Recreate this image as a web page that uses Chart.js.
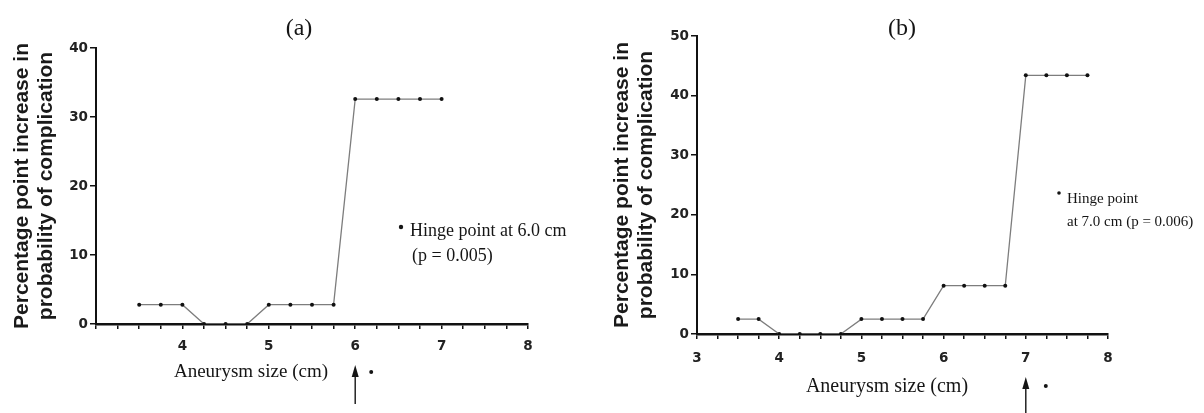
<!DOCTYPE html>
<html><head><meta charset="utf-8">
<script src="https://cdn.jsdelivr.net/npm/chart.js@4.4.1/dist/chart.umd.min.js"></script>
<style>
html,body{margin:0;padding:0;background:#fff;width:1204px;height:413px;overflow:hidden}
canvas{position:absolute;top:0}
#ca{left:0}#cb{left:600px}
</style></head><body>
<canvas id="ca" width="600" height="413"></canvas>
<canvas id="cb" width="604" height="413"></canvas>
<script>
// ---- data ----
const sizesA = [3.5,3.75,4,4.25,4.5,4.75,5,5.25,5.5,5.75,6,6.25,6.5,6.75,7];
const valuesA = [2.8,2.8,2.8,0,0,0,2.8,2.8,2.8,2.8,32.6,32.6,32.6,32.6,32.6];
const sizesB = [3.5,3.75,4,4.25,4.5,4.75,5,5.25,5.5,5.75,6,6.25,6.5,6.75,7,7.25,7.5,7.75];
const valuesB = [2.5,2.5,0,0,0,0,2.5,2.5,2.5,2.5,8.1,8.1,8.1,8.1,43.4,43.4,43.4,43.4];
const xLabelsA = [4,5,6,7,8];
const xLabelsB = [3,4,5,6,7,8];
const yMaxA = 40, yMaxB = 50;
const yTitle = ['Percentage point increase in','probability of complication'];
const xTitle = 'Aneurysm size (cm)';
const panelLabelA = '(a)', panelLabelB = '(b)';
const hingeA = 6.0, hingeB = 7.0;
const noteA = ['Hinge point at 6.0 cm','(p = 0.005)'];
const noteB = ['Hinge point','at 7.0 cm (p = 0.006)'];

const INK = '#151515';

function annotPlugin(p){
  return {
    id:'annot',
    afterDraw(chart){
      const ctx = chart.ctx;
      ctx.save();
      ctx.fillStyle = INK; ctx.strokeStyle = INK;
      ctx.font = '24px "Liberation Serif"';
      ctx.textAlign = 'center'; ctx.textBaseline = 'middle';
      ctx.fillText(p.label, p.labelX, p.labelY);
      ctx.font = p.xtSize + 'px "Liberation Serif"';
      ctx.fillText(xTitle, p.xtX, p.xtY);
      const ax = chart.scales.x.getPixelForValue(p.hinge);
      ctx.lineWidth = 1.4;
      ctx.beginPath(); ctx.moveTo(ax, p.arrowTip + 8); ctx.lineTo(ax, p.arrowEnd); ctx.stroke();
      ctx.beginPath(); ctx.moveTo(ax, p.arrowTip); ctx.lineTo(ax - 3.5, p.arrowTip + 12); ctx.lineTo(ax + 3.5, p.arrowTip + 12); ctx.closePath(); ctx.fill();
      ctx.beginPath(); ctx.arc(ax + p.dotDx, p.dotY, 2, 0, Math.PI*2); ctx.fill();
      ctx.beginPath(); ctx.arc(p.noteDotX, p.noteDotY, p.noteDotR, 0, Math.PI*2); ctx.fill();
      ctx.font = p.noteSize + 'px "Liberation Serif"';
      ctx.textAlign = 'left';
      p.note.forEach((t,i)=>ctx.fillText(t, p.noteX[i], p.noteY[i]));
      ctx.restore();
    }
  };
}

function makeChart(id, p){
  return new Chart(document.getElementById(id), {
    type:'line',
    data:{datasets:[{
      data:p.sizes.map((x,i)=>({x:x, y:p.values[i]})),
      borderColor:'#7d7d7d', borderWidth:1.3, tension:0, fill:false,
      pointRadius:2, pointBackgroundColor:'#111', pointBorderWidth:0
    }]},
    options:{
      responsive:false, animation:false, devicePixelRatio:1,
      layout:{padding:{left:0, top:p.top, right:p.right, bottom:p.bottom}},
      plugins:{legend:{display:false}, tooltip:{enabled:false}},
      scales:{
        x:{type:'linear', min:3, max:8,
          border:{display:true, color:'#111', width:2.5},
          grid:{drawOnChartArea:false, drawTicks:true, tickLength:5, color:'#111', lineWidth:1.5},
          ticks:{stepSize:0.25, autoSkip:false, maxRotation:0, minRotation:0, padding:p.xPad, color:'#222',
            font:{family:'DejaVu Sans', weight:'bold', size:13.5},
            callback:v=>p.xLabels.includes(v)?String(v):''},
          afterFit:s=>{s.height = p.xH;}
        },
        y:{type:'linear', min:0, max:p.ymax,
          border:{display:true, color:'#111', width:2},
          grid:{drawOnChartArea:false, drawTicks:true, tickLength:6, color:'#111', lineWidth:1.5},
          ticks:{stepSize:10, padding:2, color:'#222', font:{family:'DejaVu Sans', weight:'bold', size:13.5}},
          title:{display:true, text:yTitle, color:'#1a1a1a', padding:{top:10, bottom:0},
            font:{family:'Liberation Sans', weight:'bold', size:21, lineHeight:1.15}},
          afterFit:s=>{s.width = p.yW;}
        }
      }
    },
    plugins:[annotPlugin(p)]
  });
}

makeChart('ca', {
  sizes:sizesA, values:valuesA, xLabels:xLabelsA, ymax:yMaxA,
  top:48, right:72, bottom:39, xH:50, yW:96, xPad:9,
  label:panelLabelA, labelX:299, labelY:29,
  xtX:251, xtY:372, xtSize:19,
  hinge:hingeA, arrowTip:365, arrowEnd:404, dotDx:16, dotY:372,
  note:noteA, noteDotX:401, noteDotY:227, noteDotR:2.2, noteSize:18,
  noteX:[410,412], noteY:[231,256]
});
makeChart('cb', {
  sizes:sizesB, values:valuesB, xLabels:xLabelsB, ymax:yMaxB,
  top:36, right:96, bottom:29, xH:50, yW:97, xPad:11,
  label:panelLabelB, labelX:302, labelY:29,
  xtX:287, xtY:387, xtSize:20,
  hinge:hingeB, arrowTip:377, arrowEnd:413, dotDx:20, dotY:386,
  note:noteB, noteDotX:459, noteDotY:193, noteDotR:1.8, noteSize:15,
  noteX:[467,467], noteY:[199,222]
});
</script>
</body></html>
